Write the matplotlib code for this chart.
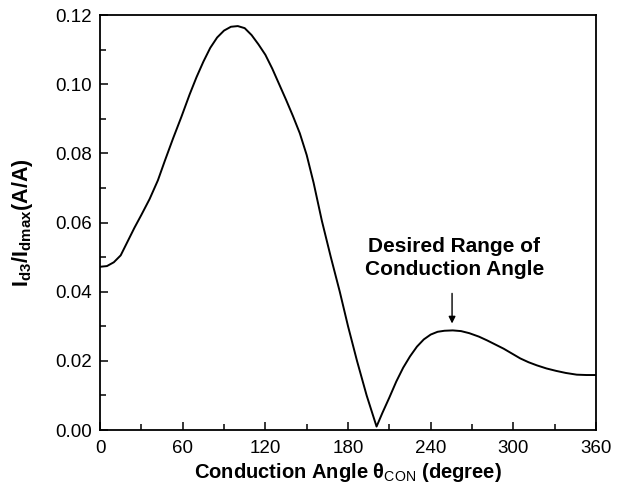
import matplotlib
matplotlib.use("Agg")
import matplotlib.pyplot as plt
from matplotlib.ticker import MultipleLocator

plt.rcParams['font.family'] = ['Liberation Sans', 'DejaVu Sans']
plt.rcParams['mathtext.fontset'] = 'custom'
plt.rcParams['mathtext.rm'] = 'Liberation Sans'
plt.rcParams['mathtext.bf'] = 'Liberation Sans:bold'
plt.rcParams['mathtext.it'] = 'Liberation Sans:italic'

# Conduction angle (degree) and normalized third-harmonic current
angle = [0, 5, 10, 15, 20, 25, 30, 36, 42, 47, 53, 59, 65, 70, 75, 80, 85,
         90, 95, 100, 105, 110, 115, 120, 125, 130, 135, 140, 145, 150, 155,
         161, 167.5, 174, 180, 186.5, 193.5, 200.7, 205, 210, 215, 220, 225,
         230, 235, 240, 245, 250, 256, 262, 268, 275, 281, 287, 293, 299, 305,
         311, 317, 324, 331, 338, 346, 353, 360]
id3 = [0.0472, 0.0474, 0.0485, 0.0505, 0.0545, 0.0585, 0.0622, 0.0668,
       0.0722, 0.0778, 0.0843, 0.0905, 0.0970, 0.1020, 0.1065, 0.1105,
       0.1135, 0.1155, 0.1166, 0.1168, 0.1162, 0.1142, 0.1115, 0.1085,
       0.1045, 0.1000, 0.0955, 0.0908, 0.0858, 0.0795, 0.0715, 0.0605,
       0.0500, 0.0400, 0.0300, 0.0200, 0.0100, 0.0010, 0.0050, 0.0094,
       0.0140, 0.0180, 0.0213, 0.0241, 0.0262, 0.0276, 0.0284, 0.0287,
       0.0288, 0.0286, 0.0280, 0.0270, 0.0259, 0.0247, 0.0235, 0.0221,
       0.0207, 0.0196, 0.0187, 0.0178, 0.0171, 0.0165, 0.0160, 0.0159,
       0.0159]

xticks = [0, 60, 120, 180, 240, 300, 360]
yticks = [0.00, 0.02, 0.04, 0.06, 0.08, 0.10, 0.12]

fig = plt.figure(figsize=(6.24, 4.97), dpi=100)
ax = fig.add_axes([0.1603, 0.1348, 0.7949, 0.835])
ax.plot(angle, id3, color='black', lw=1.4)

ax.set_xlim(0, 360)
ax.set_ylim(0, 0.12)
ax.set_xticks(xticks)
ax.set_xticklabels([str(t) for t in xticks])
ax.set_yticks(yticks)
ax.set_yticklabels([f"{t:.2f}" for t in yticks])
ax.xaxis.set_minor_locator(MultipleLocator(30))
ax.yaxis.set_minor_locator(MultipleLocator(0.01))
ax.tick_params(which='both', direction='in', top=False, right=False,
               width=1.1, labelsize=13.5)
ax.tick_params(axis='x', which='major', pad=7)
ax.tick_params(axis='y', which='major', pad=6)
ax.tick_params(which='major', length=6)
ax.tick_params(which='minor', length=4)
for s in ax.spines.values():
    s.set_linewidth(1.3)

ax.set_xlabel('Conduction Angle θ$_{\\mathrm{CON}}$ (degree)',
              fontsize=14.5, fontweight='bold', labelpad=3)
ax.set_ylabel(r'$\mathbf{I_{d3}/I_{dmax}}$(A/A)', fontsize=15.5,
              fontweight='bold', labelpad=14)

ax.text(257, 0.0497, 'Desired Range of\nConduction Angle', ha='center',
        va='center', fontsize=15, fontweight='bold', linespacing=1.3)
ax.annotate('', xy=(255.5, 0.0300), xytext=(255.5, 0.0403),
            arrowprops=dict(arrowstyle='-|>', color='black', lw=1.0,
                            mutation_scale=10))

fig.savefig('out.png', dpi=100)
